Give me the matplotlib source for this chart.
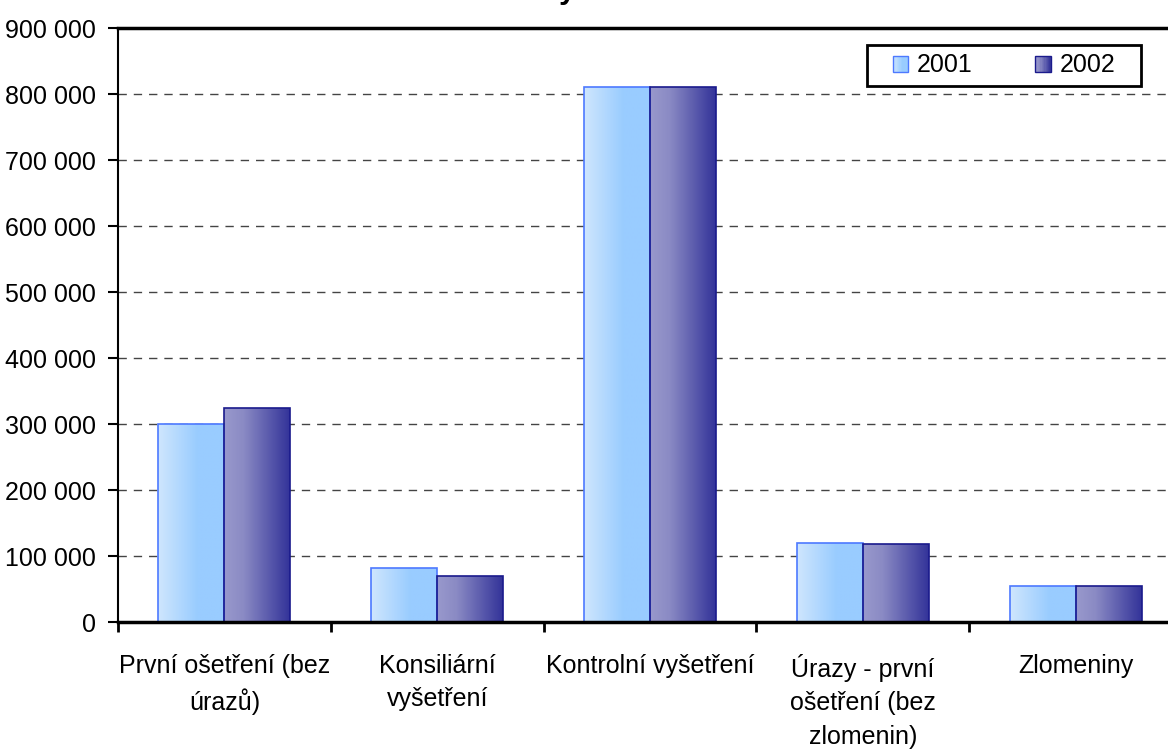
import matplotlib
matplotlib.use("Agg")
import matplotlib.pyplot as plt
import numpy as np
from matplotlib.colors import LinearSegmentedColormap
from matplotlib.legend_handler import HandlerBase
from matplotlib.patches import Rectangle, Patch

plt.rcParams["font.family"] = ["Liberation Sans", "DejaVu Sans"]

categories = [
    "První ošetření (bez\núrazů)",
    "Konsiliární\nvyšetření",
    "Kontrolní vyšetření",
    "Úrazy - první\nošetření (bez\nzlomenin)",
    "Zlomeniny",
]
years = ["2001", "2002"]
values_2001 = [300000, 82000, 810000, 120000, 55000]
values_2002 = [325000, 70000, 810000, 118000, 55000]
yticks = [0, 100000, 200000, 300000, 400000, 500000, 600000, 700000, 800000, 900000]

W, H = 1168, 751

CMAP_2001 = LinearSegmentedColormap.from_list(
    "c2001", [(0.0, "#cfe6fd"), (0.6, "#99ccff"), (1.0, "#99ccff")])
CMAP_2002 = LinearSegmentedColormap.from_list(
    "c2002", [(0.0, "#9999cc"), (0.3, "#8a8ac4"), (1.0, "#333399")])
EDGE_2001 = "#4d79ff"
EDGE_2002 = "#1a1a8c"


class GradientHandler(HandlerBase):
    def __init__(self, cmap, edge):
        super().__init__()
        self.cmap = cmap
        self.edge = edge

    def create_artists(self, legend, orig_handle, xdescent, ydescent,
                       width, height, fontsize, trans):
        side = width
        x0 = -xdescent
        y0 = -ydescent + (height - side) / 2
        arts = []
        n = 12
        for k in range(n):
            arts.append(Rectangle((x0 + side * k / n, y0), side / n + 0.3, side,
                                  facecolor=self.cmap((k + 0.5) / n),
                                  edgecolor="none", transform=trans))
        arts.append(Rectangle((x0, y0), side, side, facecolor="none",
                              edgecolor=self.edge, lw=1.0, transform=trans))
        return arts


fig = plt.figure(figsize=(W / 100, H / 100), dpi=100)
ax = fig.add_axes([118 / W, 1 - 622 / H, 1064 / W, 594 / H])

x = np.arange(len(categories))
width = 0.31
grad = np.linspace(0, 1, 256).reshape(1, -1)

for vals, offset, cmap, edge in [
    (values_2001, -width / 2, CMAP_2001, EDGE_2001),
    (values_2002, width / 2, CMAP_2002, EDGE_2002),
]:
    bars = ax.bar(x + offset, vals, width=width, facecolor="none",
                  edgecolor=edge, linewidth=1.2, zorder=3)
    for b in bars:
        bx, by = b.get_x(), b.get_y()
        im = ax.imshow(grad, cmap=cmap, aspect="auto", zorder=2.5,
                       extent=[bx, bx + b.get_width(), by, by + b.get_height()],
                       interpolation="bilinear")
        im.set_clip_path(b)

ax.set_xlim(-0.5, len(categories) - 0.5)
ax.set_ylim(0, 900000)

ax.set_yticks(yticks)
ax.set_yticklabels([f"{v:,}".replace(",", " ") for v in yticks])
ax.set_xticks(np.arange(-0.5, len(categories), 1.0))
ax.set_xticklabels([])
ax.set_xticks(x, minor=True)
ax.set_xticklabels(categories, minor=True, fontsize=18, linespacing=1.5,
                   va="top")
ax.tick_params(axis="x", which="minor", length=0, pad=23)
ax.tick_params(axis="x", which="major", length=7, width=2, direction="out")
ax.tick_params(axis="y", length=7, width=1.5, labelsize=18, pad=9)

for yv in yticks[1:-1]:
    ax.axhline(yv, color="#444444", lw=1.0, ls=(0, (6, 5)), zorder=1)

ax.spines["right"].set_visible(False)
ax.spines["left"].set_linewidth(1.5)
ax.spines["bottom"].set_linewidth(2.5)
ax.spines["top"].set_linewidth(2.5)
ax.spines["bottom"].set_zorder(4)

# legend frame drawn by hand, content placed inside it
ax.add_patch(Rectangle((867 / W, 1 - 86 / H), 274 / W, 41 / H,
                       transform=fig.transFigure, facecolor="white",
                       edgecolor="black", lw=2, zorder=4.5, clip_on=False))
handles = [Patch(label=years[0]), Patch(label=years[1])]
leg = ax.legend(handles, years, ncol=2, fontsize=18, frameon=False,
                loc="center", bbox_to_anchor=(1004 / W, 1 - 65.5 / H),
                bbox_transform=fig.transFigure,
                handler_map={handles[0]: GradientHandler(CMAP_2001, EDGE_2001),
                             handles[1]: GradientHandler(CMAP_2002, EDGE_2002)},
                handlelength=0.62, handletextpad=0.35, columnspacing=2.5,
                borderpad=0, borderaxespad=0)
leg.set_zorder(6)

fig.text(0.454, 1.0 + 2 / H, "Ošetření a vyšetření", fontsize=22,
         fontweight="bold", ha="center", va="baseline")

fig.savefig("out.png", dpi=100)
